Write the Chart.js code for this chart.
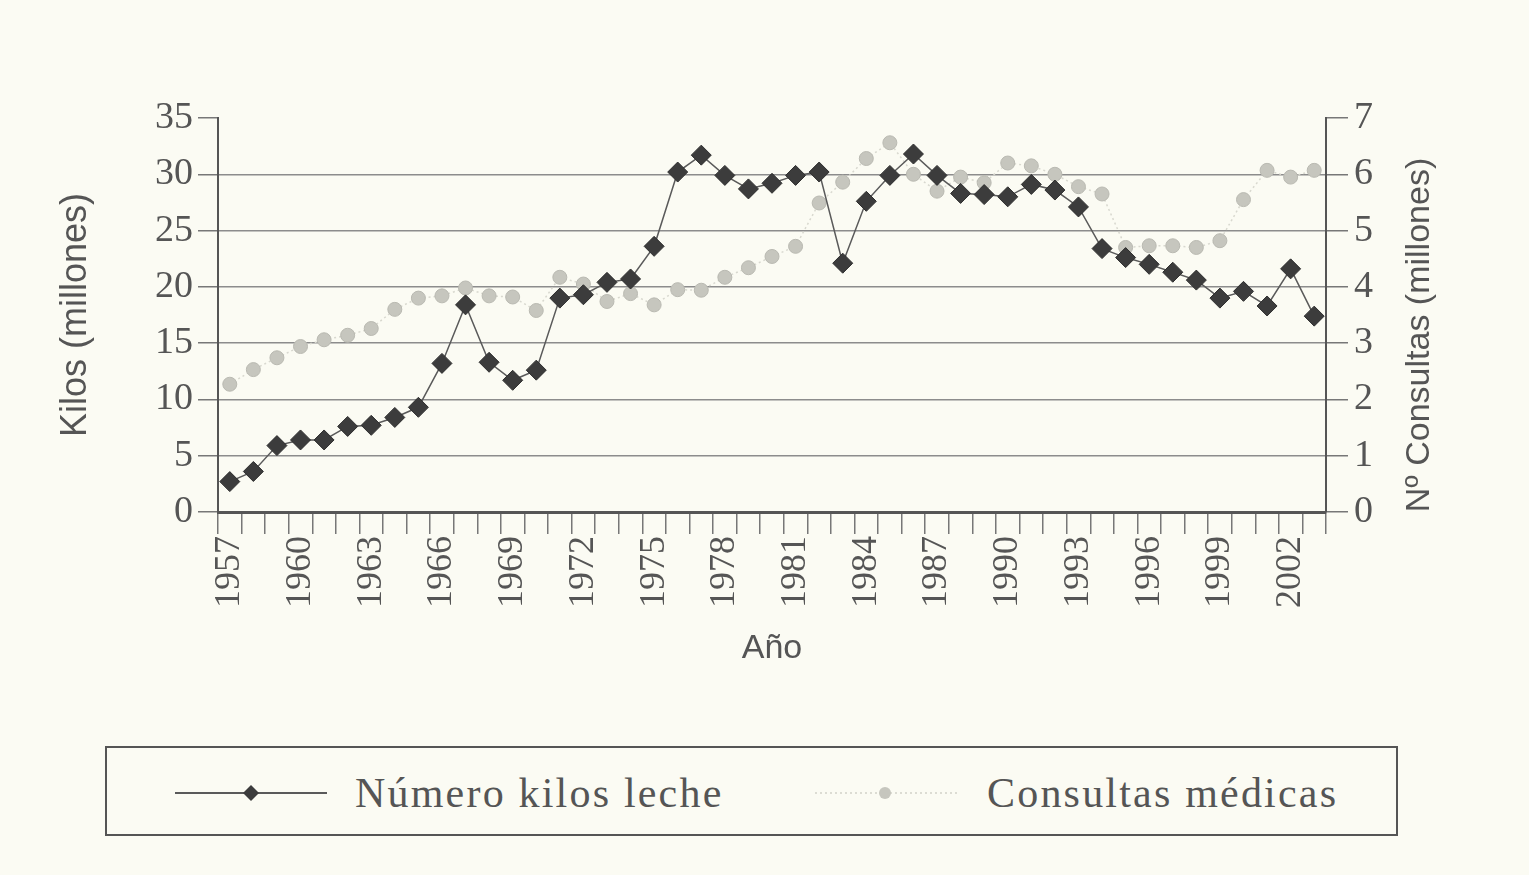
<!DOCTYPE html>
<html>
<head>
<meta charset="utf-8">
<script src="https://cdn.jsdelivr.net/npm/chart.js@4.4.1/dist/chart.umd.min.js"></script>
<style>
  html, body { margin: 0; padding: 0; background: #fbfbf3; }
  #wrap { position: relative; width: 1529px; height: 875px; overflow: hidden; }
  #chart { position: absolute; left: 0; top: 0; }
  #legend {
    position: absolute; left: 105px; top: 746px; width: 1293px; height: 90px;
    box-sizing: border-box; border: 2px solid #555;
    font-family: "Liberation Serif", "DejaVu Serif", serif; font-size: 42px; color: #555;
    letter-spacing: 2.2px;
  }
  .item { position: absolute; top: 20px; height: 50px; display: flex; align-items: center; }
  .item svg { margin-right: 28px; }
</style>
</head>
<body>
<div id="wrap">
  <canvas id="chart" width="1529" height="700"></canvas>
  <div id="legend"></div>
</div>
<script>
// Datos del gráfico
const years = ['1957','1958','1959','1960','1961','1962','1963','1964','1965','1966',
  '1967','1968','1969','1970','1971','1972','1973','1974','1975','1976',
  '1977','1978','1979','1980','1981','1982','1983','1984','1985','1986',
  '1987','1988','1989','1990','1991','1992','1993','1994','1995','1996',
  '1997','1998','1999','2000','2001','2002','2003'];
const shownYears = ['1957','1960','1963','1966','1969','1972','1975','1978','1981',
  '1984','1987','1990','1993','1996','1999','2002'];

// kilos de leche (millones) - eje izquierdo
const kilosLeche = [2.7, 3.6, 5.9, 6.4, 6.4, 7.6, 7.7, 8.4, 9.3, 13.2,
  18.4, 13.3, 11.7, 12.6, 19.0, 19.3, 20.4, 20.7, 23.6, 30.2,
  31.7, 29.9, 28.7, 29.2, 29.9, 30.2, 22.1, 27.6, 29.9, 31.8,
  29.9, 28.3, 28.2, 28.0, 29.1, 28.6, 27.1, 23.4, 22.6, 22.0,
  21.3, 20.6, 19.0, 19.6, 18.3, 21.6, 17.4];

// consultas médicas (millones) - eje derecho
const consultasMedicas = [2.27, 2.53, 2.74, 2.94, 3.06, 3.14, 3.26, 3.6, 3.8, 3.84,
  3.98, 3.84, 3.82, 3.58, 4.17, 4.05, 3.74, 3.88, 3.68, 3.95,
  3.94, 4.17, 4.34, 4.54, 4.72, 5.49, 5.86, 6.28, 6.56, 6.0,
  5.7, 5.95, 5.85, 6.2, 6.15, 6.0, 5.78, 5.65, 4.7, 4.73,
  4.73, 4.7, 4.82, 5.55, 6.07, 5.95, 6.07];

const leftTicks = [0, 5, 10, 15, 20, 25, 30, 35];
const rightTicks = [0, 1, 2, 3, 4, 5, 6, 7];

const leftTitle = 'Kilos (millones)';
const rightTitle = 'Nº Consultas (millones)';
const xTitle = 'Año';
const labelKilos = 'Número kilos leche';
const labelConsultas = 'Consultas médicas';

const serif = '"Liberation Serif", "DejaVu Serif", serif';
const narrow = '"Liberation Sans Narrow", "Liberation Sans", Roboto, sans-serif';
const darkInk = '#3c3c3c';
const lightInk = '#c6c6be';

// === Título del eje derecho (se lee de abajo hacia arriba) ===
const rightTitlePlugin = {
  id: 'rightTitle',
  afterDraw(chart) {
    const { ctx, chartArea } = chart;
    ctx.save();
    ctx.translate(1420, (chartArea.top + chartArea.bottom) / 2 + 20);
    ctx.rotate(-Math.PI / 2);
    ctx.font = '34px ' + narrow;
    ctx.fillStyle = '#555';
    ctx.textAlign = 'center';
    ctx.textBaseline = 'middle';
    ctx.fillText(rightTitle, 0, 0);
    ctx.restore();
  }
};

const ctx = document.getElementById('chart').getContext('2d');
const chart = new Chart(ctx, {
  type: 'line',
  data: {
    labels: years,
    datasets: [
      {
        label: labelConsultas,
        data: consultasMedicas,
        yAxisID: 'y2',
        borderColor: '#d8d8cf',
        borderWidth: 1.5,
        borderDash: [2, 3],
        pointStyle: 'circle',
        pointRadius: 7,
        pointBackgroundColor: lightInk,
        pointBorderColor: '#b9b9b1',
        pointBorderWidth: 1,
        tension: 0,
        order: 2
      },
      {
        label: labelKilos,
        data: kilosLeche,
        yAxisID: 'y',
        borderColor: '#5a5a5a',
        borderWidth: 1.5,
        pointStyle: 'rectRot',
        pointRadius: 10,
        pointBackgroundColor: darkInk,
        pointBorderColor: '#2e2e2e',
        pointBorderWidth: 1,
        tension: 0,
        order: 1
      }
    ]
  },
  options: {
    responsive: false,
    animation: false,
    layout: { padding: { left: 0, right: 0, top: 118, bottom: 0 } },
    plugins: {
      legend: { display: false },
      tooltip: { enabled: false }
    },
    scales: {
      x: {
        type: 'category',
        offset: true,
        afterFit: s => { s.height = 188; },
        grid: { offset: true, drawOnChartArea: false, drawTicks: true, tickLength: 22, tickColor: '#777', lineWidth: 1.5 },
        border: { display: true, color: '#555', width: 3 },
        ticks: {
          autoSkip: false, minRotation: 90, maxRotation: 90, padding: 2,
          color: '#555', font: { family: serif, size: 36 },
          callback: function (value) {
            const lab = this.getLabelForValue(value);
            return shownYears.includes(lab) ? lab : '';
          }
        },
        title: { display: true, text: xTitle, color: '#555', font: { family: narrow, size: 34 }, padding: { top: 0, bottom: 31 } }
      },
      y: {
        position: 'left',
        min: 0, max: 35,
        afterFit: s => { s.width = 218; },
        afterBuildTicks: s => { s.ticks = leftTicks.map(v => ({ value: v })); },
        grid: {
          color: c => (c.tick && c.tick.value === 35) ? 'rgba(0,0,0,0)' : '#8c8c8c',
          tickColor: '#777', lineWidth: 1.5, drawTicks: true, tickLength: 20
        },
        border: { display: true, color: '#555', width: 2 },
        ticks: { padding: 5, color: '#555', font: { family: serif, size: 38 } },
        title: { display: true, text: leftTitle, color: '#555', font: { family: narrow, size: 36 }, padding: { top: 54, bottom: 0 } }
      },
      y2: {
        position: 'right',
        min: 0, max: 7,
        afterFit: s => { s.width = 1529 - 1326; },
        afterBuildTicks: s => { s.ticks = rightTicks.map(v => ({ value: v })); },
        grid: { drawOnChartArea: false, drawTicks: true, tickLength: 22, tickColor: '#777', lineWidth: 1.5 },
        border: { display: true, color: '#555', width: 2 },
        ticks: { padding: 6, color: '#555', font: { family: serif, size: 38 } }
      }
    }
  },
  plugins: [rightTitlePlugin]
});

// === Leyenda enmarcada ===
function buildLegend() {
  const el = document.getElementById('legend');
  const items = [
    { text: labelKilos, left: 68, svg:
      '<svg width="152" height="20"><line x1="0" y1="10" x2="152" y2="10" stroke="#5a5a5a" stroke-width="2"/>' +
      '<polygon points="76,2 84,10 76,18 68,10" fill="' + darkInk + '"/></svg>' },
    { text: labelConsultas, left: 708, svg:
      '<svg width="144" height="20"><line x1="0" y1="10" x2="144" y2="10" stroke="#dcdcd3" stroke-width="2" stroke-dasharray="2,3"/>' +
      '<circle cx="70" cy="10" r="6" fill="' + lightInk + '"/></svg>' }
  ];
  items.forEach(it => {
    const d = document.createElement('div');
    d.className = 'item';
    d.style.left = it.left + 'px';
    d.innerHTML = it.svg + '<span>' + it.text + '</span>';
    el.appendChild(d);
  });
}
buildLegend();
</script>
</body>
</html>
